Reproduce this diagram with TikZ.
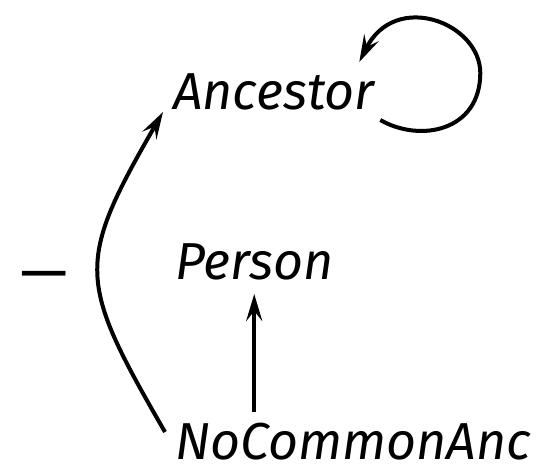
\documentclass[tikz,border=0pt]{standalone}
\usepackage{fontspec}
\setsansfont{Fira Sans}
\usetikzlibrary{arrows.meta}

\begin{document}
\begin{tikzpicture}[x=1pt,y=1pt,font=\sffamily\itshape\fontsize{52}{62}\selectfont]
  \tikzstyle{typename}=[inner sep=0pt, outer sep=0pt, anchor=base west]
  \tikzstyle{arr}=[line width=4pt, -{Stealth[length=27pt,width=16pt,inset=10pt]}]
  \useasboundingbox (0,0) rectangle (552,468);

  \node[typename] (anc) at (173,358) {Ancestor};
  \node[typename] (per) at (175,188) {Person};
  \node[typename] (nca) at (175,8) {NoCommonAnc};
  \node[inner sep=0pt, font=\sffamily\fontsize{60}{70}\selectfont] (bar) at (44,186) {---};

  % edges
  \draw[arr] ([shift={(-10pt,28pt)}]nca.base west) to[out=120,in=240,looseness=1.4] ([shift={(-10pt,-2pt)}]anc.base west);
  \draw[arr] ([yshift=48pt]nca.base west -| per.base) -- ([yshift=-14pt]per.base);
  \draw[arr] ([shift={(6pt,-10pt)}]anc.base east) .. controls +(40,-23) and +(0,-58) .. ([shift={(106pt,37pt)}]anc.base east)
    .. controls +(0,50) and +(36,72) .. ([shift={(-15pt,48pt)}]anc.base east);
\end{tikzpicture}
\end{document}
